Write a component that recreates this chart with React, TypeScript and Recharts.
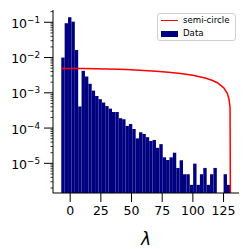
import React from 'react';
import { ComposedChart, Bar, Line, XAxis, YAxis, Legend } from 'recharts';

// histogram bins (centre of each bin) and the density in each bin
const binCenters = [
  -5.72, -2.97, -0.21, 2.55, 5.3, 8.06, 10.81, 13.57, 16.33, 19.08,
  21.84, 24.59, 27.35, 30.11, 32.86, 35.62, 38.37, 41.13, 43.89, 46.64,
  49.4, 52.15, 54.91, 57.67, 60.42, 63.18, 65.93, 68.69, 71.45, 74.2,
  76.96, 79.71, 82.47, 85.23, 87.98, 90.74, 93.49, 96.25, 99.01, 101.76,
  104.52, 107.27, 110.03, 112.79, 115.54, 118.3, 121.05, 123.81, 126.57, 129.32,
];
const binDensity: (number | null)[] = [
  1.0e-2, 9.4e-2, 1.39e-1, 1.04e-1, 1.63e-2, 4.1e-4, 4.2e-3, 2.9e-3, 1.8e-3, 1.15e-3,
  8.1e-4, 6.6e-4, 5.3e-4, 4.2e-4, 3.55e-4, 2.85e-4, 2.85e-4, 1.9e-4, 1.78e-4, 1.15e-4,
  1.3e-4, 9.4e-5, 5.1e-5, 7.6e-5, 6.8e-5, 5.5e-5, 4.3e-5, 4.6e-5, 2.75e-5, 3.5e-5,
  1.48e-5, 1.24e-5, 1.48e-5, 2.0e-5, 7.4e-6, 1.22e-5, 4.9e-6, 4.9e-6, 2.45e-6, 9.8e-6,
  2.45e-6, 4.9e-6, 7.4e-6, 2.45e-6, 4.9e-6, 7.4e-6, null, null, 4.9e-6, 2.45e-6,
];
const binWidth = 2.756;

// semi-circle curve
const semiX = [-7.1, 0, 10, 20, 30, 40, 50, 60, 70, 80, 90, 100, 110, 115, 120, 125, 128, 129.5, 130.3, 130.7];
const semiY = [
  4.86e-3, 4.87e-3, 4.85e-3, 4.8e-3, 4.73e-3, 4.63e-3, 4.49e-3, 4.32e-3, 4.11e-3, 3.85e-3,
  3.53e-3, 3.13e-3, 2.62e-3, 2.3e-3, 1.93e-3, 1.41e-3, 9.8e-4, 6.5e-4, 3.8e-4, 1e-7,
];

const xTicks = [0, 25, 50, 75, 100, 125];
const majorTicks = [1e-5, 1e-4, 1e-3, 1e-2, 1e-1];
const majorExp = [-5, -4, -3, -2, -1];

const X_DOMAIN: [number, number] = [-14, 137.6];
const Y_DOMAIN: [number, number] = [1.44e-6, 0.223];

const minorTicks = [-6, -5, -4, -3, -2, -1]
  .flatMap((e) => [2, 3, 4, 5, 6, 7, 8, 9].map((m) => m * Math.pow(10, e)))
  .filter((v) => v > Y_DOMAIN[0] && v < Y_DOMAIN[1]);

const histData = binCenters.map((x, i) => ({ x, density: binDensity[i] }));
const semiData = semiX.map((x, i) => ({ x, semi: semiY[i] }));

const W = 249;
const H = 249;
const margin = { top: 10, right: 10, left: 0, bottom: 0 };
const yAxisWidth = 53;
const plotWidth = W - margin.left - margin.right - yAxisWidth;
const barPx = (plotWidth * binWidth) / (X_DOMAIN[1] - X_DOMAIN[0]);

const FONT = 'DejaVu Sans, sans-serif';
const TICK = 9;
const TICK_GAP = 3;

// recharts floors bar widths to whole pixels; widen each bar back to the bin width
function HistBar(props: any) {
  const { x, y, width, height } = props;
  if (height == null || height <= 0) return null;
  const cx = x + width / 2;
  return <rect x={cx - barPx / 2} y={y} width={barPx} height={height} fill="#000080" />;
}

function LogTick(props: any) {
  const { x, y, payload } = props;
  const v = payload.value;
  const axisX = x + TICK + TICK_GAP;
  const idx = majorTicks.findIndex((m) => Math.abs(m - v) / m < 1e-6);
  if (idx < 0) {
    return <line x1={axisX - 2.5} x2={axisX} y1={y} y2={y} stroke="#000" strokeWidth={0.8} />;
  }
  return (
    <g>
      <line x1={axisX - TICK} x2={axisX} y1={y} y2={y} stroke="#000" strokeWidth={1} />
      <text x={axisX - TICK - 4} y={y + 5.5} textAnchor="end" fontFamily={FONT} fontSize={12.5} fill="#000">
        <tspan>10</tspan>
        <tspan dy={-5} fontSize={8.8}>{'\u2212' + Math.abs(majorExp[idx])}</tspan>
      </text>
    </g>
  );
}

function LegendBox() {
  const row = { display: 'flex', alignItems: 'center', height: 13, whiteSpace: 'nowrap' } as const;
  return (
    <div
      style={{
        border: '1px solid #d0d0d0',
        borderRadius: 3,
        background: 'rgba(255,255,255,0.8)',
        padding: '0px 3px',
        fontFamily: FONT,
        fontSize: 8.6,
        lineHeight: '13px',
        color: '#000',
        boxSizing: 'border-box',
        width: 79,
      }}
    >
      <div style={row}>
        <span style={{ display: 'inline-block', flex: '0 0 17px', height: 1.5, background: '#ff0000', marginRight: 5 }} />
        <span>semi-circle</span>
      </div>
      <div style={row}>
        <span style={{ display: 'inline-block', flex: '0 0 17px', height: 6, background: '#000080', marginRight: 5 }} />
        <span>Data</span>
      </div>
    </div>
  );
}

export default function App() {
  return (
    <div style={{ position: 'absolute', left: 0, top: 0, width: W, height: H, background: '#fff' }}>
      <ComposedChart width={W} height={H} data={histData} margin={margin} barGap={0} barCategoryGap={0}>
        <XAxis
          dataKey="x"
          type="number"
          domain={X_DOMAIN}
          allowDataOverflow
          ticks={xTicks}
          interval={0}
          height={56}
          tickSize={TICK}
          tickMargin={4.5}
          axisLine={{ stroke: '#000' }}
          tickLine={{ stroke: '#000' }}
          tick={{ fontSize: 12.5, fontFamily: FONT, fill: '#000' }}
          label={{ value: 'λ', position: 'insideBottom', offset: 4, style: { fontSize: 17, fontStyle: 'italic', fontFamily: FONT, fill: '#000' } }}
        />
        <XAxis
          xAxisId="top"
          dataKey="x"
          type="number"
          orientation="top"
          domain={X_DOMAIN}
          allowDataOverflow
          height={0}
          tick={false}
          tickLine={false}
          axisLine={{ stroke: '#000' }}
        />
        <YAxis
          scale="log"
          type="number"
          domain={Y_DOMAIN}
          allowDataOverflow
          ticks={[...majorTicks, ...minorTicks]}
          interval={0}
          width={yAxisWidth}
          tickSize={TICK}
          tickMargin={TICK_GAP}
          tickLine={false}
          axisLine={{ stroke: '#000' }}
          tick={<LogTick />}
        />
        <YAxis yAxisId="right" orientation="right" type="number" domain={[0, 1]} width={0} tick={false} tickLine={false} axisLine={{ stroke: '#000' }} />
        <Bar
          dataKey="density"
          name="Data"
          fill="#000080"
          shape={<HistBar />}
          isAnimationActive={false}
        />
        <Line
          data={semiData}
          xAxisId="top"
          dataKey="semi"
          name="semi-circle"
          type="linear"
          stroke="#ff0000"
          strokeWidth={1.5}
          dot={false}
          activeDot={false}
          isAnimationActive={false}
        />
        <Legend
          layout="horizontal"
          verticalAlign="middle"
          align="center"
          content={<LegendBox />}
          wrapperStyle={{ left: 157, top: 13, width: 79, height: 'auto' }}
        />
      </ComposedChart>
    </div>
  );
}
